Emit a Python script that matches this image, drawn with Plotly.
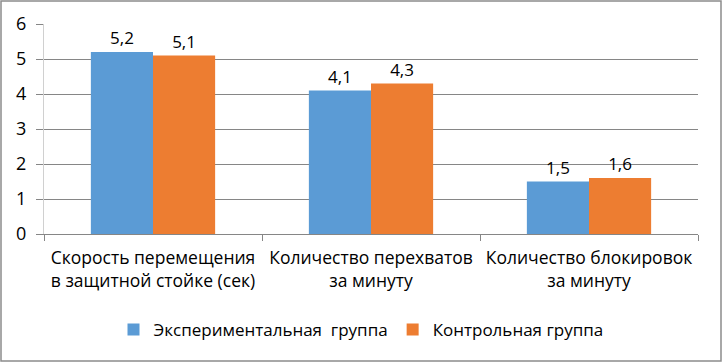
import plotly.graph_objects as go

categories = ["Скорость перемещения<br>в защитной стойке (сек)",
              "Количество перехватов<br>за минуту",
              "Количество блокировок<br>за минуту"]
series_names = ["Экспериментальная  группа", "Контрольная группа"]
exp_values = [5.2, 4.1, 1.5]
ctrl_values = [5.1, 4.3, 1.6]
y_ticks = [0, 1, 2, 3, 4, 5, 6]

colors = ["#5B9BD5", "#ED7D31"]
font_family = "Open Sans, Noto Sans, Liberation Sans, sans-serif"

fig = go.Figure()
for name, vals, col in zip(series_names, [exp_values, ctrl_values], colors):
    fig.add_trace(go.Bar(
        x=categories, y=vals, name=name, marker_color=col, marker_line_width=0,
        text=[f"{v:.1f}".replace(".", ",") for v in vals],
        textposition="outside", cliponaxis=False,
        textfont=dict(size=17, color="#000000", family=font_family),
    ))

fig.update_layout(
    width=722, height=362,
    margin=dict(l=44, r=24, t=24, b=128, autoexpand=False),
    paper_bgcolor="white", plot_bgcolor="white",
    barmode="group", bargap=0.43, bargroupgap=0,
    font=dict(family=font_family, size=17, color="#000000"),
    showlegend=True,
    legend=dict(orientation="h", x=0.5, xanchor="center", xref="container",
                y=1 - 330 / 362, yanchor="middle", yref="container",
                font=dict(size=17, family=font_family), itemwidth=30,
                traceorder="normal", bgcolor="rgba(0,0,0,0)"),
    xaxis=dict(type="category", tickson="boundaries", ticks="outside", ticklen=6,
               tickcolor="#868686", showline=True, linecolor="#868686",
               showgrid=False, tickfont=dict(size=17.5), tickangle=0,
               ticklabelstandoff=8, automargin=False),
    yaxis=dict(range=[0, 6], tickvals=y_ticks, ticks="outside", ticklen=7,
               tickcolor="#868686", showline=True, linecolor="#d0d0d0",
               showgrid=True, gridcolor="#868686", gridwidth=1,
               tickfont=dict(size=18), zeroline=False, automargin=False,
               ticklabelstandoff=6),
    shapes=[dict(type="rect", xref="paper", yref="paper",
                 x0=-43/654, x1=1+23/654, y0=-127/210, y1=1+23/210,
                 line=dict(color="#8c8c8c", width=1.5), fillcolor="rgba(0,0,0,0)",
                 layer="above")],
)

fig.write_html("out.html", config={"displayModeBar": False},
               post_script="document.body.style.margin='0';document.body.style.overflow='hidden';")
